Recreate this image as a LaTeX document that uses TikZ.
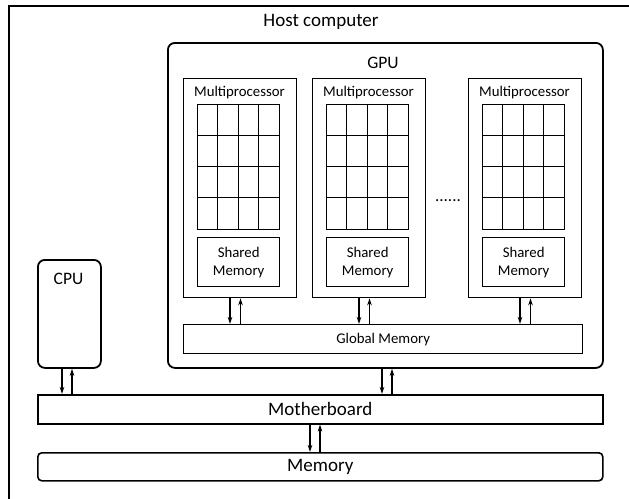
\documentclass[tikz,border=0pt]{standalone}
\usepackage{fontspec}
\setmainfont{Carlito}
\usepackage{tikz}
\usetikzlibrary{arrows.meta}
\tikzset{
    outer-box/.style = {draw, line width=1.8pt, rectangle, inner sep=0pt, anchor=north west},
    round-box/.style = {outer-box, rounded corners=7pt},
    mp-box/.style = {draw, line width=1.3pt, rectangle, inner sep=0pt, anchor=north west},
    big-text/.style = {font=\fontsize{19}{22}\selectfont},
    mid-text/.style = {font=\fontsize{17.5}{21}\selectfont},
    small-text/.style = {font=\fontsize{14.8}{17.5}\selectfont, align=center},
    link/.style = {line width=1.2pt, -{Stealth[length=7pt,width=4.5pt]}},
}

\begin{document}
\begin{tikzpicture}[x=1pt, y=-1pt]
\clip (0,0) rectangle (629,498);
% host computer
\node [outer-box, minimum width=700pt, minimum height=600pt] (host) at (8,5) {};
\node [big-text] (host-label) at (321,22) {Host computer};
% gpu
\node [round-box, minimum width=435pt, minimum height=325pt] (gpu) at (167,42) {};
\node [mid-text] (gpu-label) at (383,63) {GPU};
\node [mp-box, minimum width=399pt, minimum height=29pt, small-text] (gmem) at (183,324) {Global Memory};
\foreach \i/\x/\a in {1/183/230, 2/312/359, 3/468/520} {
    \node [mp-box, minimum width=113pt, minimum height=219pt] (mp\i) at (\x,78) {};
    \node [small-text] (mp\i-label) at (\x+56.5,93) {Multiprocessor};
    \node [mp-box, minimum width=82pt, minimum height=125pt] (grid\i) at (\x+14,104) {};
    \foreach \c in {1,2,3}
        \draw [line width=1pt] (\x+14+20.5*\c,104) -- (\x+14+20.5*\c,229);
    \foreach \r in {1,2,3}
        \draw [line width=1pt] (\x+14,104+31.25*\r) -- (\x+96,104+31.25*\r);
    \node [mp-box, minimum width=82pt, minimum height=49pt, small-text] (shared\i) at (\x+14,237) {Shared\\[0.5pt]Memory};
    \draw [link] (\a,0 |- mp\i.south) -- (\a,0 |- gmem.north);
    \draw [link] (\a+10.5,0 |- gmem.north) -- (\a+10.5,0 |- mp\i.south);
}
\node [font=\fontsize{17}{20}\selectfont] (dots) at (448,201) {......};
% cpu
\node [round-box, minimum width=63pt, minimum height=108pt] (cpu) at (37,259) {};
\node [mid-text] (cpu-label) at (68.5,279) {CPU};
% motherboard and memory
\node [outer-box, line width=1.6pt, minimum width=565pt, minimum height=29pt, big-text] (mb) at (37,394) {Motherboard};
\node [round-box, rounded corners=4pt, line width=1.6pt, minimum width=565pt, minimum height=28pt, big-text] (mem) at (37,452) {Memory};
\draw [link] (62,0 |- cpu.south) -- (62,0 |- mb.north);
\draw [link] (72,0 |- mb.north) -- (72,0 |- cpu.south);
\draw [link] (382,0 |- gpu.south) -- (382,0 |- mb.north);
\draw [link] (392,0 |- mb.north) -- (392,0 |- gpu.south);
\draw [link] (310,0 |- mb.south) -- (310,0 |- mem.north);
\draw [link] (320,0 |- mem.north) -- (320,0 |- mb.south);
\end{tikzpicture}
\end{document}
